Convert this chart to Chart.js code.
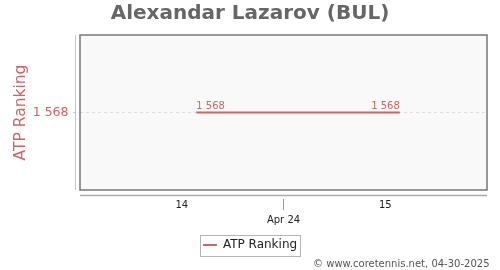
<!DOCTYPE html>
<html>
<head>
<meta charset="utf-8">
<script src="https://cdn.jsdelivr.net/npm/chart.js@4/dist/chart.umd.min.js"></script>
<style>
html, body { margin: 0; padding: 0; background: #fff; }
</style>
</head>
<body>
<canvas id="chart" width="500" height="270"></canvas>
<script>
const player = 'Alexandar Lazarov (BUL)';
const days = [1, 8];              // day of April 2024
const ranking = [1568, 1568];
const weekTicks = [0.5, 7.5];
const weekLabels = ['14', '15'];
const monthTicks = [4];
const monthLabels = ['Apr 24'];
const credit = '\u00a9 www.coretennis.net, 04-30-2025';

const red = '#cc6666';
const family = 'DejaVu Sans';

function fmt(v) {
  return String(v).replace(/\B(?=(\d{3})+(?!\d))/g, ' ');
}

function xLabel(v) {
  const w = weekTicks.indexOf(v);
  if (w >= 0) return weekLabels[w];
  const m = monthTicks.indexOf(v);
  return m >= 0 ? ['', monthLabels[m]] : '';
}

const frame = {
  id: 'frame',
  beforeDraw(chart) {
    const { ctx, chartArea: a } = chart;
    ctx.save();
    ctx.fillStyle = '#fff';
    ctx.fillRect(0, 0, chart.width, chart.height);
    ctx.fillStyle = '#f9f9f9';
    ctx.fillRect(a.left, a.top, a.right - a.left, a.bottom - a.top);
    ctx.restore();
  },
  beforeDatasetsDraw(chart) {
    const { ctx, chartArea: a } = chart;
    ctx.save();
    ctx.strokeStyle = '#777';
    ctx.lineWidth = 1.5;
    ctx.strokeRect(a.left, a.top, a.right - a.left, a.bottom - a.top);
    // axis lines sit a few px away from the plot box
    ctx.lineWidth = 1;
    ctx.strokeStyle = '#e3b8b8';
    ctx.beginPath();
    ctx.moveTo(a.left - 4.5, a.top);
    ctx.lineTo(a.left - 4.5, a.bottom);
    ctx.stroke();
    ctx.strokeStyle = '#aaa';
    ctx.lineWidth = 1.5;
    ctx.beginPath();
    ctx.moveTo(a.left, a.bottom + 5.5);
    ctx.lineTo(a.right, a.bottom + 5.5);
    ctx.stroke();
    ctx.restore();
  },
  afterDatasetsDraw(chart) {
    const { ctx } = chart;
    const pts = chart.getDatasetMeta(0).data;
    ctx.save();
    ctx.font = '10px "' + family + '"';
    ctx.fillStyle = red;
    ctx.textBaseline = 'alphabetic';
    pts.forEach((p, i) => {
      ctx.textAlign = i === pts.length - 1 ? 'right' : 'left';
      ctx.fillText(fmt(ranking[i]), p.x, p.y - 4);
    });
    ctx.restore();
  },
  afterDraw(chart) {
    const { ctx } = chart;
    ctx.save();
    const hb = chart.legend.legendHitBoxes[0];
    if (hb) {
      const cy = hb.top + hb.height / 2;
      ctx.strokeStyle = '#b5b5b5';
      ctx.lineWidth = 1;
      ctx.strokeRect(Math.round(hb.left - 3) + 0.5, Math.round(cy - 10.5) + 0.5,
        Math.round(hb.width + 6), 21);
    }
    ctx.font = '10px "' + family + '"';
    ctx.fillStyle = '#555';
    ctx.textAlign = 'right';
    ctx.textBaseline = 'alphabetic';
    ctx.fillText(credit, 489.5, 266.5);
    ctx.restore();
  }
};

new Chart(document.getElementById('chart'), {
  type: 'line',
  data: {
    datasets: [{
      label: 'ATP Ranking',
      data: days.map((d, i) => ({ x: d, y: ranking[i] })),
      borderColor: red,
      backgroundColor: red,
      borderWidth: 2,
      pointRadius: 0,
      tension: 0
    }]
  },
  options: {
    responsive: false,
    animation: false,
    devicePixelRatio: 1,
    layout: { padding: { left: 0, right: 0, top: 0, bottom: 9 } },
    scales: {
      x: {
        type: 'linear',
        position: 'bottom',
        min: -3,
        max: 11,
        afterBuildTicks(s) {
          s.ticks = weekTicks.concat(monthTicks).sort((a, b) => a - b).map(v => ({ value: v }));
        },
        afterFit(s) { s.height = 43; },
        grid: {
          display: true,
          drawOnChartArea: false,
          drawTicks: true,
          tickLength: 20,
          tickWidth: 1,
          tickBorderDash: [11, 9],
          tickBorderDashOffset: 11,
          tickColor: (c) => (c.tick && monthTicks.includes(c.tick.value)) ? '#999' : 'rgba(0,0,0,0)'
        },
        border: { display: false },
        ticks: {
          padding: -12,
          autoSkip: false,
          maxRotation: 0,
          color: '#222',
          font: { family, size: 10, lineHeight: 1.5 },
          callback: (v) => xLabel(v)
        }
      },
      y: {
        type: 'linear',
        position: 'left',
        reverse: true,
        min: 1567,
        max: 1569,
        afterBuildTicks(s) { s.ticks = [{ value: ranking[0] }]; },
        afterFit(s) { s.width = 80; },
        grid: { color: '#ddd', tickColor: '#ccc', tickLength: 7, tickBorderDash: [3, 3] },
        border: { display: false, dash: [3, 3] },
        ticks: {
          padding: 4.5,
          color: red,
          font: { family, size: 12.5 },
          callback: (v) => fmt(v)
        },
        title: {
          display: true,
          text: 'ATP Ranking',
          color: red,
          font: { family, size: 15.5 },
          padding: { top: 12, bottom: 0 }
        }
      },
      pad: {
        type: 'linear',
        axis: 'y',
        position: 'right',
        afterFit(s) { s.width = 13; },
        ticks: { display: false },
        grid: { display: false },
        border: { display: false }
      }
    },
    plugins: {
      title: {
        display: true,
        text: player,
        color: '#666',
        font: { family, size: 20, weight: 'bold' },
        padding: { top: 2, bottom: 9 }
      },
      legend: {
        position: 'bottom',
        labels: {
          usePointStyle: true,
          pointStyle: 'line',
          pointStyleWidth: 14,
          padding: 6,
          color: '#222',
          font: { family, size: 12 }
        }
      },
      tooltip: { enabled: false }
    }
  },
  plugins: [frame]
});
</script>
</body>
</html>
